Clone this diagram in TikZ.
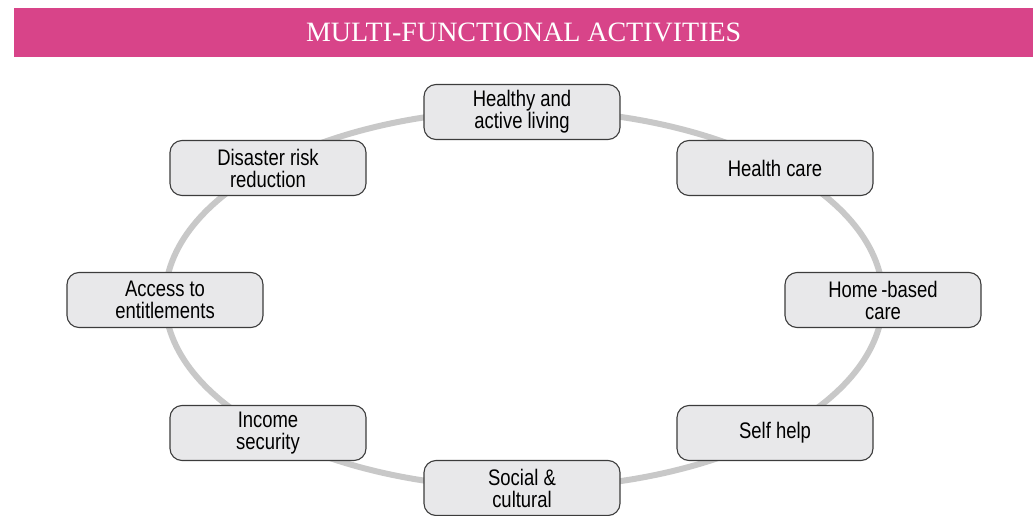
\documentclass[tikz,border=0pt]{standalone}
\usepackage{fontspec}
\usepackage{xcolor}
\usetikzlibrary{positioning}
\setmainfont{Liberation Serif}
\newfontfamily\ndfont[FakeStretch=0.82]{Liberation Sans}
\definecolor{titlepink}{RGB}{216,68,137}
\definecolor{ndfill}{RGB}{232,232,234}
\definecolor{ndline}{RGB}{60,60,60}
\definecolor{ringgray}{RGB}{200,200,200}

\begin{document}
\begin{tikzpicture}[
    x=1pt, y=-1pt,
    nd/.style={draw=ndline, fill=ndfill, rounded corners=12pt, line width=1.1pt,
               minimum width=196pt, minimum height=55pt, align=center,
               font=\ndfont\fontsize{22.5}{22}\selectfont, inner sep=2pt},
    ring/.style={draw=ringgray, line width=6pt},
    bar/.style={fill=titlepink, draw=none},
]
\useasboundingbox (0,0) rectangle (1033,516);

% === Title bar ===
\node[bar, minimum width=1019pt, minimum height=49pt, anchor=north west, inner sep=0pt] at (14,8) (title)
     {\color{white}\fontsize{28}{28}\selectfont MULTI-FUNCTIONAL ACTIVITIES};

% === Ring ===
\coordinate (c) at (524,299);
\draw[ring] (c) ellipse [x radius=359, y radius=189];

% === Activities round the ring ===
\node[nd] at (522,112) (live) {Healthy and\\active living};
\node[nd] at (775,168) (hcare) {Health care};
\node[nd] at (883,300) (home) {Home\,-based\\care};
\node[nd] at (775,433) (self) {Self help};
\node[nd] at (522,488) (soc) {Social \&\\cultural};
\node[nd] at (268,433) (inc) {Income\\security};
\node[nd] at (165,300) (acc) {Access to\\entitlements};
\node[nd] at (268,168) (drr) {Disaster risk\\reduction};

\end{tikzpicture}
\end{document}
